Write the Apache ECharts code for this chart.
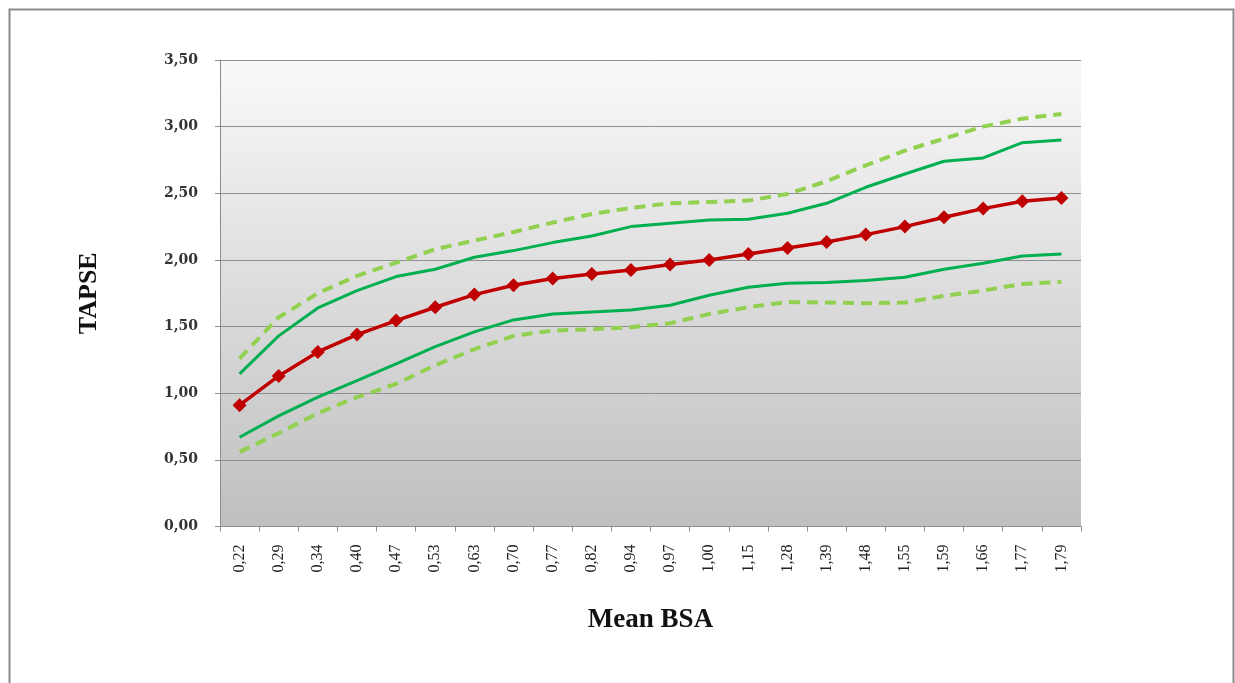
<!DOCTYPE html>
<html>
<head>
<meta charset="utf-8">
<script src="https://cdn.jsdelivr.net/npm/echarts@6/dist/echarts.min.js"></script>
<style>
html,body{margin:0;padding:0;background:#fff;}
#chart{width:1235px;height:683px;}
</style>
</head>
<body>
<div id="chart"></div>
<script>
const categories = ['0,22','0,29','0,34','0,40','0,47','0,53','0,63','0,70','0,77','0,82','0,94','0,97','1,00','1,15','1,28','1,39','1,48','1,55','1,59','1,66','1,77','1,79'];
const meanTapse   = [0.91,1.13,1.31,1.44,1.545,1.645,1.74,1.81,1.86,1.895,1.925,1.965,2.00,2.045,2.09,2.135,2.19,2.25,2.32,2.385,2.44,2.465];
const upperSolid  = [1.145,1.43,1.64,1.77,1.875,1.93,2.02,2.07,2.13,2.18,2.25,2.275,2.30,2.305,2.35,2.425,2.545,2.645,2.74,2.765,2.88,2.90];
const lowerSolid  = [0.67,0.83,0.97,1.095,1.22,1.35,1.46,1.55,1.595,1.61,1.625,1.66,1.735,1.795,1.825,1.83,1.845,1.87,1.93,1.975,2.03,2.045];
const upperDashed = [1.26,1.57,1.75,1.88,1.98,2.08,2.145,2.21,2.28,2.345,2.39,2.425,2.435,2.445,2.495,2.59,2.71,2.82,2.91,3.00,3.06,3.095];
const lowerDashed = [0.56,0.70,0.85,0.97,1.07,1.21,1.33,1.43,1.47,1.48,1.495,1.525,1.595,1.645,1.685,1.68,1.675,1.68,1.73,1.77,1.82,1.835];
const yTicks = {min:0, max:3.5, interval:0.5};

const chart = echarts.init(document.getElementById('chart'), null, {renderer:'canvas'});
const axisGray = '#8c8c8c';
function lineSeries(name, data, color, width, dashed, marker){
  return {
    name, type:'line', data, smooth:false, z: marker ? 5 : 3,
    symbol: marker ? 'diamond' : 'none', symbolSize: marker ? 14 : 0,
    showSymbol: !!marker,
    itemStyle:{color},
    lineStyle:{color, width, type: dashed ? [11,7] : 'solid', cap:'butt'},
    emphasis:{disabled:true}
  };
}
chart.setOption({
  animation:false,
  backgroundColor:'#ffffff',
  graphic:[{
    type:'rect', left:7, top:7, z:-10,
    shape:{x:0,y:0,width:1224,height:700},
    style:{fill:'none', stroke:'#8a8a8a', lineWidth:2}
  }],
  grid:{
    left:220, right:154, top:60, bottom:156.5, show:true, borderWidth:0,
    backgroundColor:{type:'linear',x:0,y:0,x2:0,y2:1,colorStops:[{offset:0,color:'#f9f9f9'},{offset:1,color:'#bfbfbf'}]}
  },
  xAxis:{
    type:'category', data:categories, boundaryGap:true,
    name:'Mean BSA', nameLocation:'middle', nameGap:80,
    nameTextStyle:{fontFamily:'Liberation Serif', fontWeight:'bold', fontSize:27, color:'#111'},
    axisLine:{lineStyle:{color:axisGray, width:1}},
    axisTick:{show:true, alignWithLabel:false, length:5, lineStyle:{color:axisGray}},
    axisLabel:{rotate:90, margin:18, fontFamily:'Liberation Serif', fontSize:16, color:'#222', interval:0},
    splitLine:{show:false}
  },
  yAxis:{
    type:'value', min:yTicks.min, max:yTicks.max, interval:yTicks.interval,
    name:'TAPSE', nameLocation:'middle', nameGap:118, nameRotate:90,
    nameTextStyle:{fontFamily:'Liberation Serif', fontWeight:'bold', fontSize:26, color:'#111'},
    axisLine:{show:true, lineStyle:{color:axisGray, width:1}},
    axisTick:{show:true, length:5, lineStyle:{color:axisGray}},
    axisLabel:{margin:22, fontFamily:'DejaVu Serif', fontWeight:'bold', fontSize:14, color:'#333',
      formatter: v => v.toFixed(2).replace('.', ',')},
    splitLine:{show:true, lineStyle:{color:'#8f8f8f', width:1}}
  },
  series:[
    lineSeries('Upper dashed', upperDashed, '#92d050', 4, true, false),
    lineSeries('Lower dashed', lowerDashed, '#92d050', 4, true, false),
    lineSeries('Upper', upperSolid, '#00b050', 3, false, false),
    lineSeries('Lower', lowerSolid, '#00b050', 3, false, false),
    lineSeries('Mean', meanTapse, '#c00000', 3.5, false, true)
  ]
});
</script>
</body>
</html>
